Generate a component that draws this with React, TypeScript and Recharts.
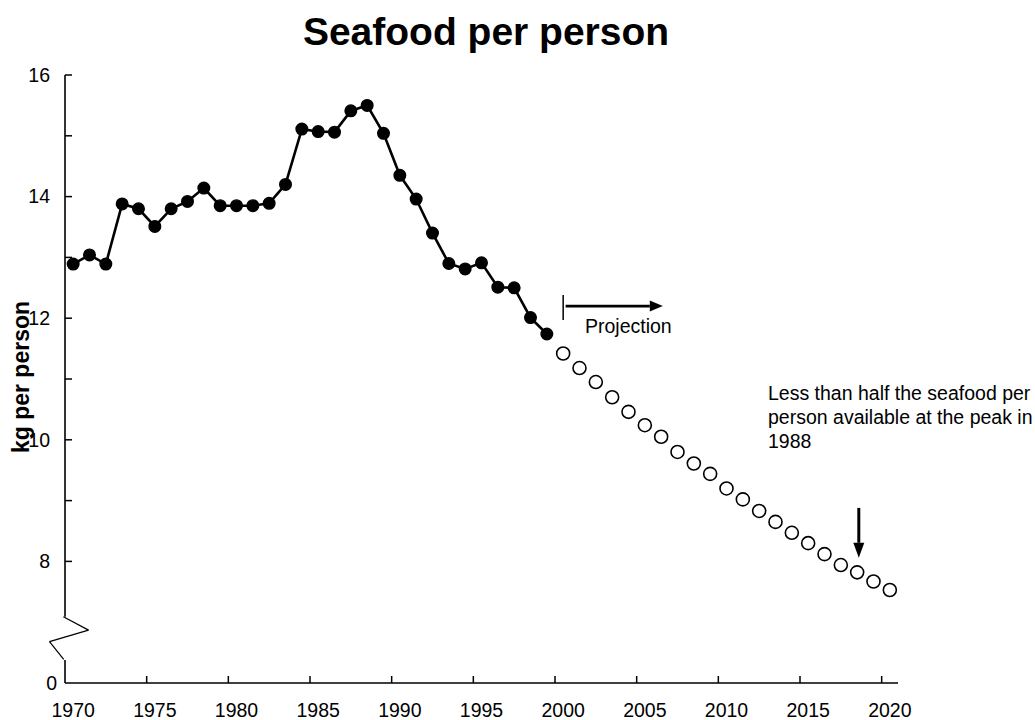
import React from "react";
import { Line, LineChart, ReferenceLine, XAxis, YAxis } from "recharts";

const years = [
  1970, 1971, 1972, 1973, 1974, 1975, 1976, 1977, 1978, 1979,
  1980, 1981, 1982, 1983, 1984, 1985, 1986, 1987, 1988, 1989,
  1990, 1991, 1992, 1993, 1994, 1995, 1996, 1997, 1998, 1999,
  2000, 2001, 2002, 2003, 2004, 2005, 2006, 2007, 2008, 2009,
  2010, 2011, 2012, 2013, 2014, 2015, 2016, 2017, 2018, 2019, 2020,
];
// 1970-1999, recorded
const actual = [
  12.89, 13.04, 12.89, 13.88, 13.8, 13.51, 13.8, 13.92, 14.14, 13.85,
  13.85, 13.85, 13.89, 14.2, 15.11, 15.07, 15.06, 15.41, 15.5, 15.04,
  14.35, 13.96, 13.4, 12.9, 12.81, 12.91, 12.51, 12.5, 12.01, 11.74,
];
// 2000-2020, projection
const projected = [
  11.42, 11.18, 10.95, 10.7, 10.46, 10.24, 10.05, 9.8, 9.61, 9.44,
  9.2, 9.02, 8.83, 8.65, 8.47, 8.3, 8.12, 7.94, 7.82, 7.67, 7.53,
];
const xTicks = [1970, 1975, 1980, 1985, 1990, 1995, 2000, 2005, 2010, 2015, 2020];
const yTicks = [6, 8, 9, 10, 11, 12, 13, 14, 15, 16];
const yLabels: Record<number, string> = { 6: "0", 8: "8", 10: "10", 12: "12", 14: "14", 16: "16" };

const data = years.map((year, i) => ({
  year,
  actual: i < actual.length ? actual[i] : undefined,
  projected: i >= actual.length ? projected[i - actual.length] : undefined,
}));

const W = 1035;
const H = 720;
const margin = { top: 75, right: 137, bottom: 7, left: 20 };
const PLOT_W = W - margin.left - margin.right - 45;
const HALF_BAND = PLOT_W / years.length / 2;
const FONT = "'Liberation Sans', Arial, Helvetica, sans-serif";

function XTick({ x, y, payload }: any) {
  return <g>
    {payload.value > 1970 ? <line x1={x - HALF_BAND} x2={x - HALF_BAND} y1={y} y2={y - 7} stroke="#000" strokeWidth={1.5}/> : null}
    <text x={x} y={y + 34} textAnchor="middle" fontSize={19.5} fontFamily={FONT} fill="#000">{payload.value}</text>
  </g>;
}

function YTick({ x, y, payload }: any) {
  const v = payload.value;
  return <g>
    {v > 6 ? <line x1={x} x2={x + 7} y1={y} y2={y} stroke="#000" strokeWidth={1.5}/> : null}
    {yLabels[v] ? <text x={v === 6 ? x - 8 : x - 15} y={y} dy="0.35em" textAnchor="end" fontSize={19.5} fontFamily={FONT} fill="#000">{yLabels[v]}</text> : null}
  </g>;
}

function Arrow({ x1, y1, x2, y2, width = 3, head = 13, half = 5.5 }: any) {
  const a = Math.atan2(y2 - y1, x2 - x1);
  const bx = x2 - Math.cos(a) * head;
  const by = y2 - Math.sin(a) * head;
  const px = -Math.sin(a) * half;
  const py = Math.cos(a) * half;
  return <g>
    <line x1={x1} y1={y1} x2={bx} y2={by} stroke="#000" strokeWidth={width}/>
    <polygon points={`${x2},${y2} ${bx + px},${by + py} ${bx - px},${by - py}`} fill="#000"/>
  </g>;
}

// broken y axis, drawn in data units
const axisSegments = [
  [{ x: 1969.5, y: 16 }, { x: 1969.5, y: 7.09 }, 1.6],
  [{ x: 1969.4, y: 7.09 }, { x: 1970.94, y: 6.87 }, 1.2],
  [{ x: 1970.94, y: 6.87 }, { x: 1968.55, y: 6.68 }, 1.2],
  [{ x: 1968.55, y: 6.68 }, { x: 1969.42, y: 6.39 }, 1.2],
  [{ x: 1969.5, y: 6.38 }, { x: 1969.5, y: 6 }, 1.6],
] as const;

export default function App() {
  return <div style={{ position: "absolute", left: 0, top: 0, width: W, height: H, background: "#fff" }}>
    <LineChart width={W} height={H} data={data} margin={margin}>
      <XAxis dataKey="year" type="number" domain={[1969.5, 2020.5]} ticks={xTicks} interval={0}
        height={30} tickSize={0} tickMargin={0} tick={<XTick/>} axisLine={{ stroke: "#000", strokeWidth: 1.6 }} tickLine={false}/>
      <YAxis type="number" domain={[6, 16]} ticks={yTicks} interval={0} width={45}
        tickSize={0} tickMargin={0} tick={<YTick/>} axisLine={false} tickLine={false}/>
      {axisSegments.map(([a, b, w], i) => <ReferenceLine key={`axis-${i}`} segment={[a, b]} ifOverflow="visible" stroke="#000" strokeWidth={w}/>)}
      <ReferenceLine segment={[{ x: 2000, y: 12.38 }, { x: 2000, y: 11.97 }]} stroke="#000" strokeWidth={1.5} ifOverflow="visible"/>
      <ReferenceLine segment={[{ x: 2000.15, y: 12.2 }, { x: 2006.1, y: 12.2 }]} ifOverflow="visible" stroke="#000"
        shape={(p: any) => <Arrow x1={p.x1} y1={p.y1} x2={p.x2} y2={p.y2} width={2.8} head={13} half={5.5}/>}/>
      <ReferenceLine segment={[{ x: 2018.1, y: 8.88 }, { x: 2018.1, y: 8.06 }]} ifOverflow="visible" stroke="#000"
        shape={(p: any) => <Arrow x1={p.x1} y1={p.y1} x2={p.x2} y2={p.y2} width={3} head={15} half={5.5}/>}/>
      <Line dataKey="actual" stroke="#000" strokeWidth={2.6} isAnimationActive={false}
        dot={{ r: 5.8, fill: "#000", stroke: "#000", strokeWidth: 1.4 }} activeDot={false}/>
      <Line dataKey="projected" stroke="none" isAnimationActive={false}
        dot={{ r: 6.5, fill: "#fff", stroke: "#000", strokeWidth: 1.6 }} activeDot={false}/>
    </LineChart>
    <svg width={W} height={H} style={{ position: "absolute", left: 0, top: 0, pointerEvents: "none" }} fontFamily={FONT}>
      <text x={486} y={45} textAnchor="middle" fontSize={39} fontWeight="bold">Seafood per person</text>
      <text transform="translate(28.5 377) rotate(-90)" textAnchor="middle" fontSize={23} fontWeight="bold">kg per person</text>
      <text x={585} y={333} fontSize={19.5}>Projection</text>
      <text x={768} fontSize={19.5}>
        <tspan x={768} y={400}>Less than half the seafood per</tspan>
        <tspan x={768} y={424}>person available at the peak in</tspan>
        <tspan x={768} y={448}>1988</tspan>
      </text>
    </svg>
  </div>;
}
